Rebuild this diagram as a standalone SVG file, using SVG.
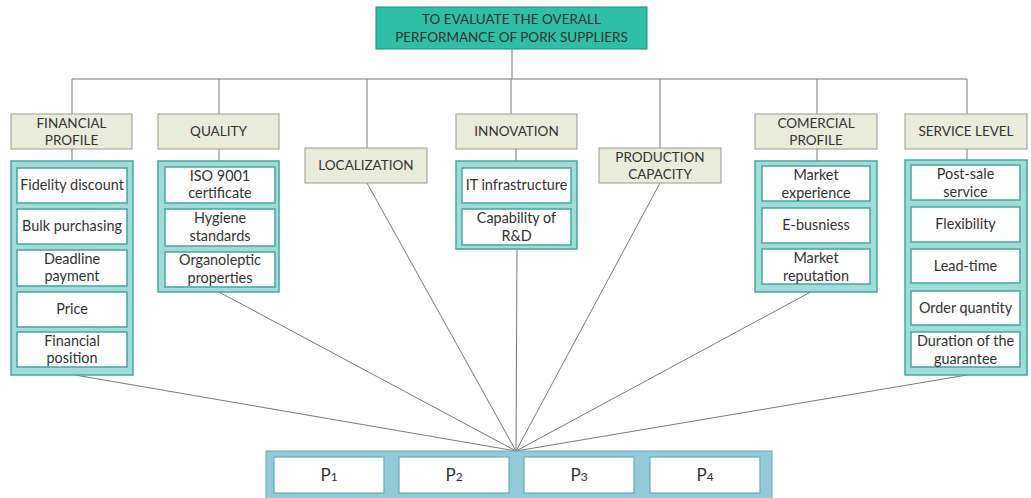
<svg xmlns="http://www.w3.org/2000/svg" width="1031" height="498" viewBox="0 0 1031 498">
<style>
text{font-family:Lato,"Open Sans","Liberation Sans",sans-serif;fill:#333;text-anchor:middle;}
.t{font-size:13.5px;}
.c{font-size:13.5px;}
.i{font-size:14.4px;}
.cat{fill:#e9ecda;stroke:#9a9a8e;stroke-width:1;}
.cont{fill:#a0dcd6;stroke:#45a7a0;stroke-width:1.5;}
.item{fill:#fff;stroke:#45a7a0;stroke-width:1.5;}
.ln{stroke:#7a7a7a;stroke-width:1;fill:none;}
.top{fill:#2fbfa6;stroke:#1f8f7e;stroke-width:1;}
.pc{fill:#93cad8;stroke:#6aa9b9;stroke-width:1;}
.pi{fill:#fff;stroke:#6aa9b9;stroke-width:1.2;}
.p{font-size:17px;}
</style>
<rect width="1031" height="498" fill="#fff"/>
<g id="connectors">
<path class="ln" d="M512 49V79M72 79H967M72 79V114M219 79V114M367 79V148M511 79V114M660 79V148M817 79V114M967 79V114"/>
<path class="ln" d="M72 149V161M219 149V161M516 149V161M817 149V161M967 149V160"/>
<path class="ln" d="M75 375L516 451M219 292L516 451M367 183L516 451M517 249L516 451M660 183L516 451M818 288L516 451M967 375L516 451"/>
</g>
<g id="goal">
<rect class="top" x="376" y="7" width="271" height="42"/>
<text class="t" x="511.5" y="24">TO EVALUATE THE OVERALL</text>
<text class="t" x="511.5" y="42">PERFORMANCE OF PORK SUPPLIERS</text>
</g>
<g id="financial">
<rect class="cat" x="11" y="114" width="121" height="35"/>
<text class="c" x="71.5" y="128">FINANCIAL</text>
<text class="c" x="71.5" y="145">PROFILE</text>
<rect class="cont" x="11" y="161" width="122" height="214"/>
<rect class="item" x="17" y="168" width="110" height="35"/>
<text class="i" x="72" y="190">Fidelity discount</text>
<rect class="item" x="17" y="209" width="110" height="35"/>
<text class="i" x="72" y="231">Bulk purchasing</text>
<rect class="item" x="17" y="250" width="110" height="36"/>
<text class="i" x="72" y="264">Deadline</text>
<text class="i" x="72" y="281">payment</text>
<rect class="item" x="17" y="292" width="110" height="35"/>
<text class="i" x="72" y="314">Price</text>
<rect class="item" x="17" y="332" width="110" height="35"/>
<text class="i" x="72" y="346">Financial</text>
<text class="i" x="72" y="363">position</text>
</g>
<g id="quality">
<rect class="cat" x="158" y="114" width="121" height="35"/>
<text class="c" x="218.5" y="136">QUALITY</text>
<rect class="cont" x="158" y="161" width="121" height="131"/>
<rect class="item" x="165" y="167" width="110" height="36"/>
<text class="i" x="220" y="181">ISO 9001</text>
<text class="i" x="220" y="198">certificate</text>
<rect class="item" x="165" y="209" width="110" height="37"/>
<text class="i" x="220" y="223">Hygiene</text>
<text class="i" x="220" y="241">standards</text>
<rect class="item" x="165" y="252" width="110" height="35"/>
<text class="i" x="220" y="265">Organoleptic</text>
<text class="i" x="220" y="283">properties</text>
</g>
<g id="localization">
<rect class="cat" x="305" y="148" width="122" height="35"/>
<text class="c" x="366" y="170">LOCALIZATION</text>
</g>
<g id="innovation">
<rect class="cat" x="456" y="114" width="121" height="35"/>
<text class="c" x="516.5" y="136">INNOVATION</text>
<rect class="cont" x="456" y="161" width="121" height="88"/>
<rect class="item" x="462" y="168" width="109" height="35"/>
<text class="i" x="516.5" y="190">IT infrastructure</text>
<rect class="item" x="462" y="209" width="109" height="36"/>
<text class="i" x="516.5" y="223">Capability of</text>
<text class="i" x="516.5" y="241">R&amp;D</text>
</g>
<g id="production">
<rect class="cat" x="599" y="148" width="122" height="35"/>
<text class="c" x="660" y="162">PRODUCTION</text>
<text class="c" x="660" y="179">CAPACITY</text>
</g>
<g id="comercial">
<rect class="cat" x="755" y="114" width="122" height="35"/>
<text class="c" x="816" y="128">COMERCIAL</text>
<text class="c" x="816" y="145">PROFILE</text>
<rect class="cont" x="755" y="161" width="122" height="131"/>
<rect class="item" x="762" y="166" width="108" height="35"/>
<text class="i" x="816" y="180">Market</text>
<text class="i" x="816" y="198">experience</text>
<rect class="item" x="762" y="208" width="108" height="35"/>
<text class="i" x="816" y="230">E-busniess</text>
<rect class="item" x="762" y="249" width="108" height="35"/>
<text class="i" x="816" y="263">Market</text>
<text class="i" x="816" y="281">reputation</text>
</g>
<g id="service">
<rect class="cat" x="905" y="114" width="122" height="35"/>
<text class="c" x="966" y="136">SERVICE  LEVEL</text>
<rect class="cont" x="905" y="160" width="122" height="215"/>
<rect class="item" x="911" y="165" width="109" height="35"/>
<text class="i" x="965.5" y="179">Post-sale</text>
<text class="i" x="965.5" y="197">service</text>
<rect class="item" x="911" y="207" width="109" height="35"/>
<text class="i" x="965.5" y="229">Flexibility</text>
<rect class="item" x="911" y="249" width="109" height="34"/>
<text class="i" x="965.5" y="271">Lead-time</text>
<rect class="item" x="911" y="291" width="109" height="34"/>
<text class="i" x="965.5" y="313">Order quantity</text>
<rect class="item" x="911" y="332" width="109" height="35"/>
<text class="i" x="965.5" y="346">Duration of the</text>
<text class="i" x="965.5" y="364">guarantee</text>
</g>
<g id="suppliers">
<rect class="pc" x="266" y="451" width="506" height="48"/>
<rect class="pi" x="274" y="457" width="110" height="36"/>
<text class="p" x="329" y="481">P<tspan font-size="12">1</tspan></text>
<rect class="pi" x="399" y="457" width="110" height="36"/>
<text class="p" x="454" y="481">P<tspan font-size="12">2</tspan></text>
<rect class="pi" x="524" y="457" width="110" height="36"/>
<text class="p" x="579" y="481">P<tspan font-size="12">3</tspan></text>
<rect class="pi" x="650" y="457" width="110" height="36"/>
<text class="p" x="705" y="481">P<tspan font-size="12">4</tspan></text>
</g>
</svg>
